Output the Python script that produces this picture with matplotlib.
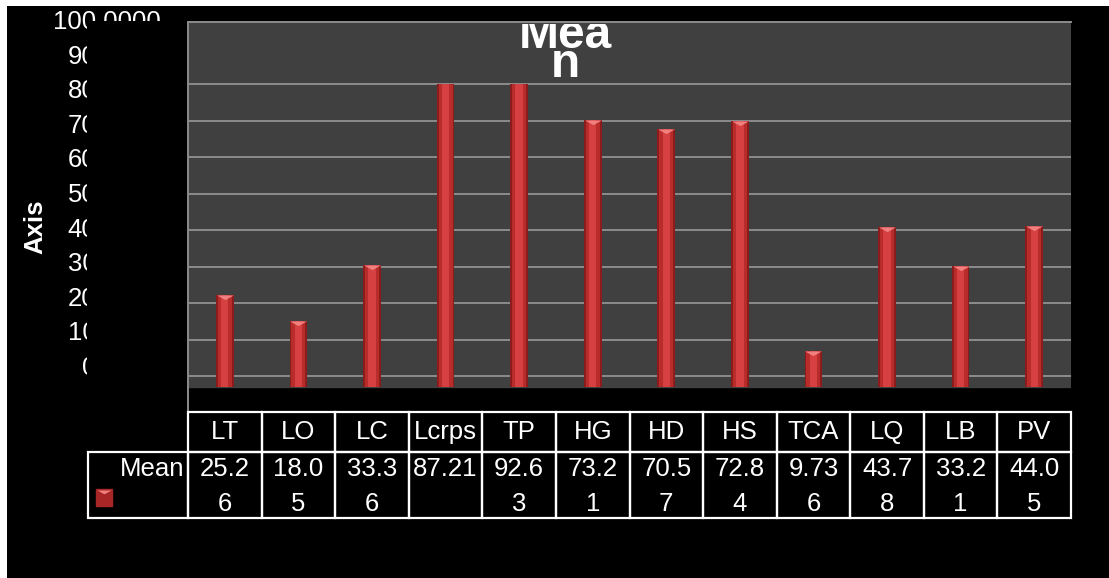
import matplotlib
matplotlib.use('Agg')  # headless backend
import matplotlib.pyplot as plt
import numpy as np
from matplotlib.patches import Rectangle
from matplotlib.transforms import Bbox, blended_transform_factory

plt.rcParams['font.family'] = ['Liberation Sans', 'DejaVu Sans']

# data
categories = ['LT', 'LO', 'LC', 'Lcrps', 'TP', 'HG', 'HD', 'HS', 'TCA', 'LQ', 'LB', 'PV']
mean_values = [25.26, 18.05, 33.36, 87.21, 92.63, 73.21, 70.57, 72.84, 9.736, 43.78, 33.21, 44.05]
series_name = 'Mean'
title_text = 'Mea\nn'
y_ticks = [0, 10, 20, 30, 40, 50, 60, 70, 80, 90, 100]
nowrap = {'Lcrps'}

W, H = 1109, 578
PX = 3.65  # pixels per value unit on the wall


def fx(px):
    return px / W


def fy(py):
    return 1 - py / H


fig = plt.figure(figsize=(W / 100, H / 100), dpi=100, facecolor='white')
fig.add_artist(Rectangle((fx(7), 0), 1 - fx(7), fy(6), transform=fig.transFigure,
                         facecolor='black', edgecolor='none', zorder=0))

# plot area (wall + floor strip)
ax = fig.add_axes([fx(188), fy(412), (1071 - 188) / W, (412 - 22) / H])
ax.set_facecolor('black')
ymin, ymax = -(412 - 387) / PX, (387 - 22) / PX
ax.set_xlim(-0.5, 11.5)
ax.set_ylim(ymin, ymax)
ax.axhspan(0, ymax, color='#404040', zorder=0)
for t in y_ticks:
    if t <= 80:
        ax.axhline(t + 2.9, color='#8c8c8c', lw=1.4, zorder=1)
for s in ['bottom', 'right']:
    ax.spines[s].set_visible(False)
for s in ['top', 'left']:
    ax.spines[s].set_color('#8c8c8c')
    ax.spines[s].set_linewidth(1.4)
ax.set_xticks([])
ax.set_yticks([])

# bars, clipped at the "80" wall line like the original
x = np.arange(len(categories))
clip_rect = Rectangle((-0.5, ymin), 12, 82.9 - ymin, transform=ax.transData)
layers = [(0.24, '#8c1c1c'), (0.19, '#b82c2c'), (0.10, '#d64040')]
for w, c in layers:
    for b in ax.bar(x, mean_values, width=w, color=c, zorder=3):
        b.set_clip_path(clip_rect)
cap_marker = [(-1, 0), (1, 0), (0, -0.55), (-1, 0)]
caps = ax.plot(x, mean_values, ls='none', marker=cap_marker, ms=12,
               mfc='#f08080', mec='none', zorder=5)
caps[0].set_clip_path(clip_rect)

# title, clipped by the top of the plot area (baseline = last line)
title = fig.text(fx(565), fy(77), title_text, ha='center', va='baseline',
                 fontsize=34.5, fontweight='bold', color='white', linespacing=0.54)
title.set_clip_box(Bbox([[0, 0], [W, H - 24]]))
title.set_clip_on(True)

# y tick labels (clipped, as in the original)
tr = blended_transform_factory(fig.transFigure, ax.transData)
for t in y_ticks:
    yy = 5.2 + 0.948 * t
    lab = fig.text(fx(161), yy, f'{t:.4f}', ha='right', va='center', fontsize=18.5,
                   color='white', transform=tr)
    lab.set_clip_box(Bbox([[0, 0], [87, H]]))
    lab.set_clip_on(True)
    if t == 100:
        lab2 = fig.text(fx(161), yy, f'{t:.4f}', ha='right', va='center', fontsize=18.5,
                        color='white', transform=tr)
        lab2.set_clip_box(Bbox([[87, H - 21], [400, H]]))
        lab2.set_clip_on(True)

fig.text(fx(35), fy(227), 'Axis', rotation=90, ha='center', va='center',
         fontsize=18.5, fontweight='bold', color='white')

# data table
tab = fig.add_axes([fx(188), 0, (1071 - 188) / W, 1])
tab.set_xlim(-0.5, 11.5)
tab.set_ylim(H, 0)
tab.axis('off')
col_w = (1071 - 188) / 12
fs = 18.5
for i, (cat, v) in enumerate(zip(categories, mean_values)):
    tab.add_patch(Rectangle((i - 0.5, 412), 1, 40, fill=False, ec='white', lw=1.6, clip_on=False))
    tab.add_patch(Rectangle((i - 0.5, 452), 1, 66, fill=False, ec='white', lw=1.6, clip_on=False))
    tab.text(i, 432, cat, ha='center', va='center', fontsize=fs, color='white')
    s = f'{v:g}'
    lines = [s] if cat in nowrap or len(s) <= 4 else [s[:4], s[4:]]
    for k, ln in enumerate(lines):
        tab.text(i, 457 + 35 * k, ln, ha='center', va='top', fontsize=fs, color='white')

xl = -0.5 - (188 - 88) / col_w
tab.add_patch(Rectangle((xl, 452), -0.5 - xl, 66, fill=False, ec='white', lw=1.6, clip_on=False))
tab.text(-0.5 - 4 / col_w, 457, series_name, ha='right', va='top', fontsize=fs,
         color='white', clip_on=False)
kx = -0.5 - (188 - 96) / col_w
tab.add_patch(Rectangle((kx, 489), 16 / col_w, 17, color='#a82626', clip_on=False))
tab.plot([kx + 8 / col_w], [490], ls='none', marker=cap_marker, ms=10,
         mfc='#f08080', mec='none', clip_on=False)

fig.savefig('out.png', dpi=100, facecolor=fig.get_facecolor())
